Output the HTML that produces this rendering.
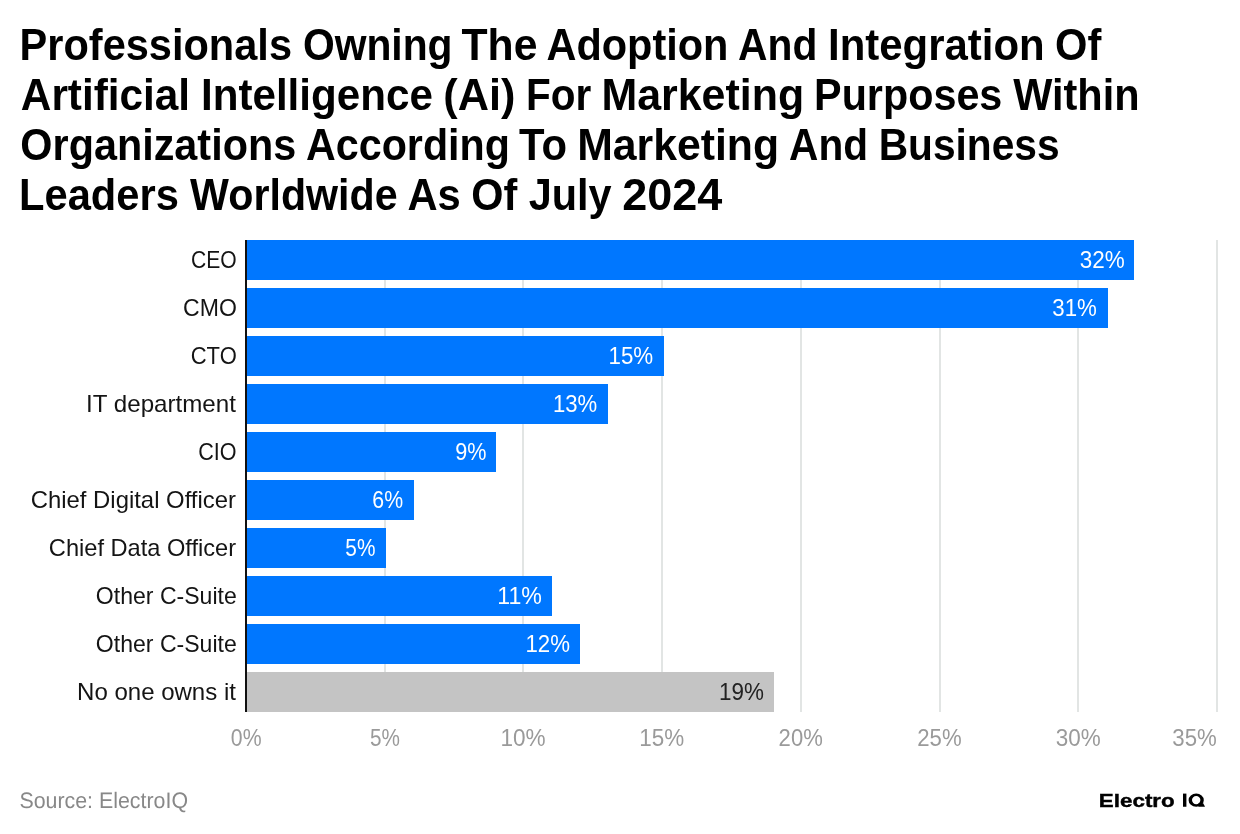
<!DOCTYPE html>
<html><head><meta charset="utf-8"><style>
html,body{margin:0;padding:0;background:#fff;width:1240px;height:834px;overflow:hidden}
svg{display:block;will-change:transform}
text{font-family:"Liberation Sans",sans-serif}
.t{font-weight:bold;font-size:45px;fill:#000}
.c{font-size:24px;fill:#141414}
.v{font-size:24px;fill:#fff}
.vd{font-size:24px;fill:#222}
.x{font-size:24px;fill:#9a9a9a}
.s{font-size:22.4px;fill:#888;text-rendering:geometricPrecision}
.logo{font-weight:bold;font-size:18px;fill:#000;stroke:#000;stroke-width:0.4px}
</style></head><body>
<svg width="1240" height="834" viewBox="0 0 1240 834">
<rect x="384" y="240" width="2" height="472" fill="#e2e5e4"/>
<rect x="522" y="240" width="2" height="472" fill="#e2e5e4"/>
<rect x="661" y="240" width="2" height="472" fill="#e2e5e4"/>
<rect x="800" y="240" width="2" height="472" fill="#e2e5e4"/>
<rect x="939" y="240" width="2" height="472" fill="#e2e5e4"/>
<rect x="1077" y="240" width="2" height="472" fill="#e2e5e4"/>
<rect x="1216" y="240" width="2" height="472" fill="#e2e5e4"/>
<rect x="247" y="240" width="887" height="40" fill="#0077ff"/>
<rect x="247" y="288" width="861" height="40" fill="#0077ff"/>
<rect x="247" y="336" width="417" height="40" fill="#0077ff"/>
<rect x="247" y="384" width="361" height="40" fill="#0077ff"/>
<rect x="247" y="432" width="249" height="40" fill="#0077ff"/>
<rect x="247" y="480" width="167" height="40" fill="#0077ff"/>
<rect x="247" y="528" width="139" height="40" fill="#0077ff"/>
<rect x="247" y="576" width="305" height="40" fill="#0077ff"/>
<rect x="247" y="624" width="333" height="40" fill="#0077ff"/>
<rect x="247" y="672" width="527" height="40" fill="#c4c4c4"/>
<rect x="245" y="240" width="2" height="472" fill="#111111"/>
<text id="t0_0" class="t" x="19.57" y="60" text-anchor="start" textLength="272.43" lengthAdjust="spacingAndGlyphs">Professionals</text>
<text id="t0_1" class="t" x="302.91" y="60" text-anchor="start" textLength="149.61" lengthAdjust="spacingAndGlyphs">Owning</text>
<text id="t0_2" class="t" x="461.52" y="60" text-anchor="start" textLength="75.92" lengthAdjust="spacingAndGlyphs">The</text>
<text id="t0_3" class="t" x="546.47" y="60" text-anchor="start" textLength="181.99" lengthAdjust="spacingAndGlyphs">Adoption</text>
<text id="t0_4" class="t" x="738.11" y="60" text-anchor="start" textLength="79.32" lengthAdjust="spacingAndGlyphs">And</text>
<text id="t0_5" class="t" x="828.05" y="60" text-anchor="start" textLength="216.57" lengthAdjust="spacingAndGlyphs">Integration</text>
<text id="t0_6" class="t" x="1055.01" y="60" text-anchor="start" textLength="46.31" lengthAdjust="spacingAndGlyphs">Of</text>
<text id="t1_0" class="t" x="20.85" y="110" text-anchor="start" textLength="169.24" lengthAdjust="spacingAndGlyphs">Artificial</text>
<text id="t1_1" class="t" x="200.97" y="110" text-anchor="start" textLength="231.92" lengthAdjust="spacingAndGlyphs">Intelligence</text>
<text id="t1_2" class="t" x="443.24" y="110" text-anchor="start" textLength="72.12" lengthAdjust="spacingAndGlyphs">(Ai)</text>
<text id="t1_3" class="t" x="525.96" y="110" text-anchor="start" textLength="65.23" lengthAdjust="spacingAndGlyphs">For</text>
<text id="t1_4" class="t" x="601.42" y="110" text-anchor="start" textLength="202.74" lengthAdjust="spacingAndGlyphs">Marketing</text>
<text id="t1_5" class="t" x="814.09" y="110" text-anchor="start" textLength="188.26" lengthAdjust="spacingAndGlyphs">Purposes</text>
<text id="t1_6" class="t" x="1013.23" y="110" text-anchor="start" textLength="126.38" lengthAdjust="spacingAndGlyphs">Within</text>
<text id="t2_0" class="t" x="20.37" y="160" text-anchor="start" textLength="275.83" lengthAdjust="spacingAndGlyphs">Organizations</text>
<text id="t2_1" class="t" x="306.10" y="160" text-anchor="start" textLength="203.75" lengthAdjust="spacingAndGlyphs">According</text>
<text id="t2_2" class="t" x="519.02" y="160" text-anchor="start" textLength="47.95" lengthAdjust="spacingAndGlyphs">To</text>
<text id="t2_3" class="t" x="577.14" y="160" text-anchor="start" textLength="201.88" lengthAdjust="spacingAndGlyphs">Marketing</text>
<text id="t2_4" class="t" x="789.07" y="160" text-anchor="start" textLength="78.95" lengthAdjust="spacingAndGlyphs">And</text>
<text id="t2_5" class="t" x="878.67" y="160" text-anchor="start" textLength="180.97" lengthAdjust="spacingAndGlyphs">Business</text>
<text id="t3_0" class="t" x="19.11" y="210" text-anchor="start" textLength="159.72" lengthAdjust="spacingAndGlyphs">Leaders</text>
<text id="t3_1" class="t" x="190.12" y="210" text-anchor="start" textLength="207.50" lengthAdjust="spacingAndGlyphs">Worldwide</text>
<text id="t3_2" class="t" x="407.42" y="210" text-anchor="start" textLength="53.29" lengthAdjust="spacingAndGlyphs">As</text>
<text id="t3_3" class="t" x="471.30" y="210" text-anchor="start" textLength="46.00" lengthAdjust="spacingAndGlyphs">Of</text>
<text id="t3_4" class="t" x="528.63" y="210" text-anchor="start" textLength="82.89" lengthAdjust="spacingAndGlyphs">July</text>
<text id="t3_5" class="t" x="622.25" y="210" text-anchor="start" textLength="100.12" lengthAdjust="spacingAndGlyphs">2024</text>
<text id="c0" class="c" x="190.91" y="268" text-anchor="start" textLength="45.71" lengthAdjust="spacingAndGlyphs">CEO</text>
<text id="c1" class="c" x="183.09" y="316" text-anchor="start" textLength="53.77" lengthAdjust="spacingAndGlyphs">CMO</text>
<text id="c2" class="c" x="190.76" y="364" text-anchor="start" textLength="46.00" lengthAdjust="spacingAndGlyphs">CTO</text>
<text id="c3" class="c" x="86.08" y="412" text-anchor="start" textLength="149.80" lengthAdjust="spacingAndGlyphs">IT department</text>
<text id="c4" class="c" x="198.29" y="460" text-anchor="start" textLength="38.34" lengthAdjust="spacingAndGlyphs">CIO</text>
<text id="c5" class="c" x="30.78" y="508" text-anchor="start" textLength="205.17" lengthAdjust="spacingAndGlyphs">Chief Digital Officer</text>
<text id="c6" class="c" x="48.87" y="556" text-anchor="start" textLength="187.27" lengthAdjust="spacingAndGlyphs">Chief Data Officer</text>
<text id="c7" class="c" x="95.87" y="604" text-anchor="start" textLength="140.89" lengthAdjust="spacingAndGlyphs">Other C-Suite</text>
<text id="c8" class="c" x="95.87" y="652" text-anchor="start" textLength="140.89" lengthAdjust="spacingAndGlyphs">Other C-Suite</text>
<text id="c9" class="c" x="77.04" y="700" text-anchor="start" textLength="158.91" lengthAdjust="spacingAndGlyphs">No one owns it</text>
<text id="v0" class="v" x="1079.84" y="268" text-anchor="start" textLength="44.96" lengthAdjust="spacingAndGlyphs">32%</text>
<text id="v1" class="v" x="1052.32" y="316" text-anchor="start" textLength="44.59" lengthAdjust="spacingAndGlyphs">31%</text>
<text id="v2" class="v" x="608.47" y="364" text-anchor="start" textLength="44.73" lengthAdjust="spacingAndGlyphs">15%</text>
<text id="v3" class="v" x="553.04" y="412" text-anchor="start" textLength="44.26" lengthAdjust="spacingAndGlyphs">13%</text>
<text id="v4" class="v" x="455.32" y="460" text-anchor="start" textLength="31.19" lengthAdjust="spacingAndGlyphs">9%</text>
<text id="v5" class="v" x="372.36" y="508" text-anchor="start" textLength="30.73" lengthAdjust="spacingAndGlyphs">6%</text>
<text id="v6" class="v" x="345.34" y="556" text-anchor="start" textLength="30.09" lengthAdjust="spacingAndGlyphs">5%</text>
<text id="v7" class="v" x="497.22" y="604" text-anchor="start" textLength="44.65" lengthAdjust="spacingAndGlyphs">11%</text>
<text id="v8" class="v" x="525.43" y="652" text-anchor="start" textLength="44.54" lengthAdjust="spacingAndGlyphs">12%</text>
<text id="v9" class="vd" x="718.97" y="700" text-anchor="start" textLength="44.90" lengthAdjust="spacingAndGlyphs">19%</text>
<text id="x0" class="x" x="230.87" y="746" text-anchor="start" textLength="30.74" lengthAdjust="spacingAndGlyphs">0%</text>
<text id="x1" class="x" x="370.07" y="746" text-anchor="start" textLength="29.96" lengthAdjust="spacingAndGlyphs">5%</text>
<text id="x2" class="x" x="500.50" y="746" text-anchor="start" textLength="45.19" lengthAdjust="spacingAndGlyphs">10%</text>
<text id="x3" class="x" x="639.21" y="746" text-anchor="start" textLength="44.90" lengthAdjust="spacingAndGlyphs">15%</text>
<text id="x4" class="x" x="778.62" y="746" text-anchor="start" textLength="44.16" lengthAdjust="spacingAndGlyphs">20%</text>
<text id="x5" class="x" x="917.24" y="746" text-anchor="start" textLength="44.36" lengthAdjust="spacingAndGlyphs">25%</text>
<text id="x6" class="x" x="1055.84" y="746" text-anchor="start" textLength="44.96" lengthAdjust="spacingAndGlyphs">30%</text>
<text id="x7" class="x" x="1172.34" y="746" text-anchor="start" textLength="44.50" lengthAdjust="spacingAndGlyphs">35%</text>
<text id="src" class="s" x="19.39" y="808" text-anchor="start" textLength="168.65" lengthAdjust="spacingAndGlyphs">Source: ElectroIQ</text>
<text id="logo" class="logo" x="1098.89" y="807" text-anchor="start" textLength="75.89" lengthAdjust="spacingAndGlyphs">Electro</text>
<rect x="1183" y="793.6" width="3.4" height="13.15" fill="#000"/>
<path fill-rule="evenodd" fill="#000" d="M1188.6 800.15 A7.6 6.55 0 1 0 1203.8 800.15 A7.6 6.55 0 1 0 1188.6 800.15 Z M1192.0 800.1 A4.2 4.2 0 1 0 1200.4 800.1 A4.2 4.2 0 1 0 1192.0 800.1 Z"/>
<path d="M1198.5 803.2 L1203.2 803.2 L1205 806.8 L1198.5 806.8 Z" fill="#000"/>
</svg>
</body></html>
